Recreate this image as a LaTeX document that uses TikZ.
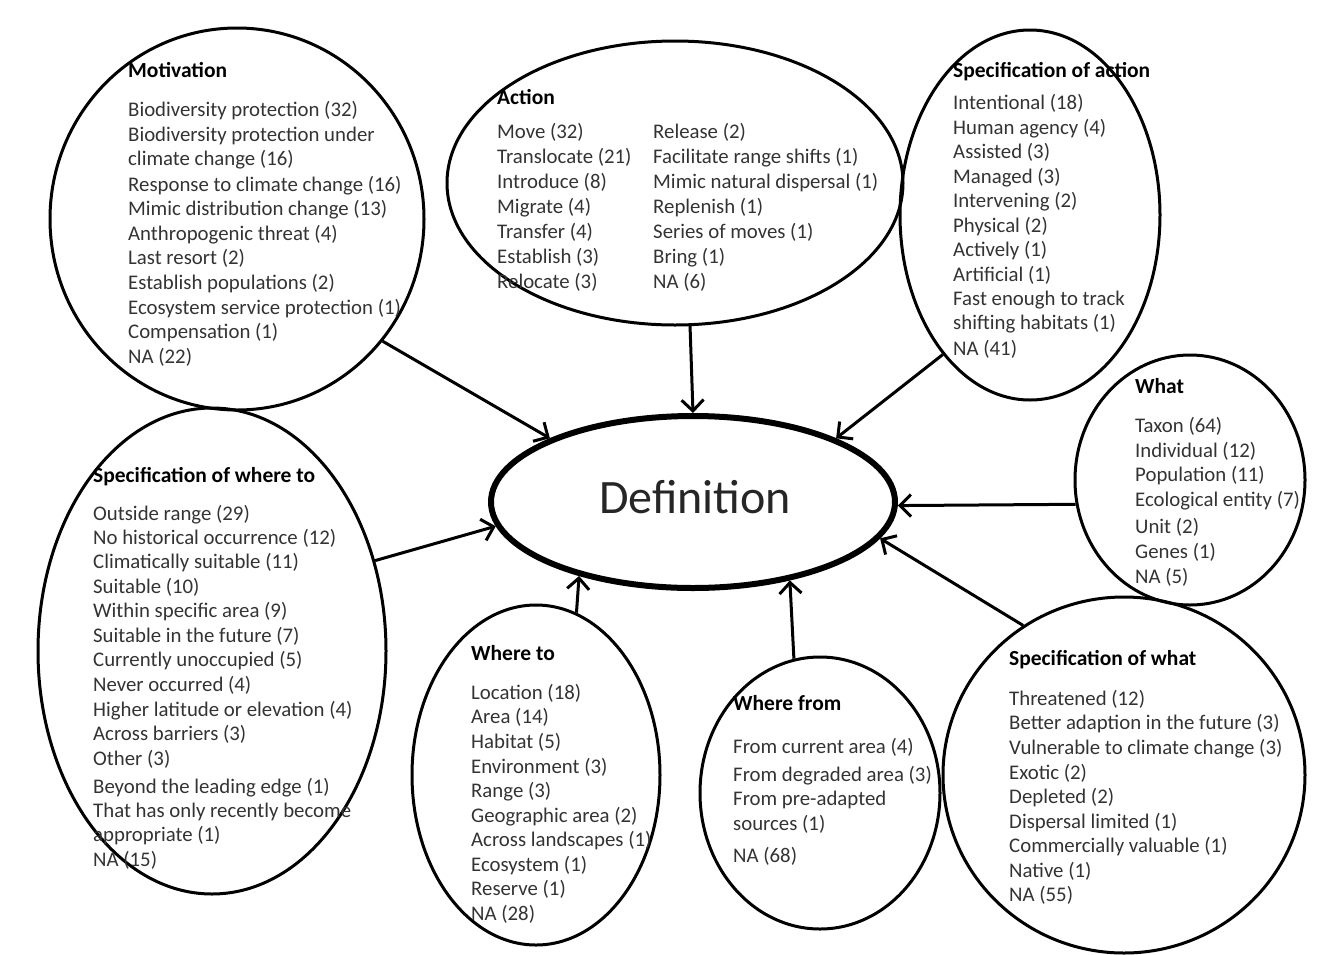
\documentclass[tikz,border=0pt]{standalone}
\usepackage{fontspec}
\setmainfont{Carlito}
\usetikzlibrary{shapes.geometric,arrows.meta}
\tikzset{
  bub/.style={draw=black, line width=3pt, ellipse, inner sep=0pt},
  item/.style={anchor=base west, inner sep=0pt, font=\fontsize{20.8}{24}\selectfont, text=black!80},
  ttl/.style={anchor=base west, inner sep=0pt, font=\fontsize{21.5}{24}\selectfont\bfseries, text=black},
  arr/.style={line width=3pt, -{Straight Barb[length=11pt,width=22pt,line width=3pt]}},
}
\begin{document}
\begin{tikzpicture}[x=1pt,y=-1pt]
\useasboundingbox (0,0) rectangle (1326,954);
% ellipses
\node[bub, minimum width=374, minimum height=382] (mot) at (237,219) {};
\node[bub, minimum width=456, minimum height=284] (act) at (675,183) {};
\node[bub, minimum width=260, minimum height=370] (spa) at (1030,215) {};
\node[bub, minimum width=230, minimum height=250] (what) at (1190,480) {};
\node[bub, minimum width=348, minimum height=486] (swt) at (212,651) {};
\node[bub, minimum width=248, minimum height=340] (wto) at (536,775) {};
\node[bub, minimum width=240, minimum height=272] (wfr) at (820,793) {};
\node[bub, minimum width=362, minimum height=356] (swh) at (1124,775) {};
\node[draw=black, line width=6pt, ellipse, inner sep=0pt, minimum width=404, minimum height=172] (def) at (693,502) {};
\node[inner sep=0pt, font=\fontsize{48}{56}\selectfont, text=black!85] (defT) at (695,497) {Definition};
% texts
\node[ttl] (motT) at (128,77) {Motivation};
\foreach \y/\t [count=\i] in {110/Biodiversity protection (32),135/Biodiversity protection under,159/climate change (16),185/Response to climate change (16),209/Mimic distribution change (13),234/Anthropogenic threat (4),258/Last resort (2),283/Establish populations (2),308/Ecosystem service protection (1),332/Compensation (1),357/NA (22)}
  \node[item] (mot\i) at (128,\y+6) {\t};
\node[ttl] (actT) at (497,104) {Action};
\foreach \y/\t [count=\i] in {132/Move (32),157/Translocate (21),182/Introduce (8),207/Migrate (4),232/Transfer (4),257/Establish (3),282/Relocate (3)}
  \node[item] (actA\i) at (497,\y+6) {\t};
\foreach \y/\t [count=\i] in {132/Release (2),157/Facilitate range shifts (1),182/Mimic natural dispersal (1),207/Replenish (1),232/Series of moves (1),257/Bring (1),282/NA (6)}
  \node[item] (actB\i) at (653,\y+6) {\t};
\node[ttl] (spaT) at (953,77) {Specification of action};
\foreach \y/\t [count=\i] in {103/Intentional (18),128/Human agency (4),152/Assisted (3),177/Managed (3),201/Intervening (2),226/Physical (2),250/Actively (1),275/Artificial (1),299/Fast enough to track,323/shifting habitats (1),349/NA (41)}
  \node[item] (spa\i) at (953,\y+6) {\t};
\node[ttl] (whatT) at (1135,393) {What};
\foreach \y/\t [count=\i] in {426/Taxon (64),451/Individual (12),475/Population (11),500/Ecological entity (7),527/Unit (2),552/Genes (1),577/NA (5)}
  \node[item] (what\i) at (1135,\y+6) {\t};
\node[ttl] (swtT) at (93,482) {Specification of where to};
\foreach \y/\t [count=\i] in {514/Outside range (29),538/No historical occurrence (12),562/Climatically suitable (11),587/Suitable (10),611/Within specific area (9),636/Suitable in the future (7),660/Currently unoccupied (5),685/Never occurred (4),710/Higher latitude or elevation (4),734/Across barriers (3),759/Other (3),787/Beyond the leading edge (1),811/That has only recently become,835/appropriate (1),860/NA (15)}
  \node[item] (swt\i) at (93,\y+6) {\t};
\node[ttl] (wtoT) at (471,660) {Where to};
\foreach \y/\t [count=\i] in {693/Location (18),717/Area (14),742/Habitat (5),767/Environment (3),791/Range (3),816/Geographic area (2),840/Across landscapes (1),865/Ecosystem (1),889/Reserve (1),914/NA (28)}
  \node[item] (wto\i) at (471,\y+6) {\t};
\node[ttl] (wfrT) at (733,710) {Where from};
\foreach \y/\t [count=\i] in {747/From current area (4),775/From degraded area (3),799/From pre-adapted,824/sources (1),856/NA (68)}
  \node[item] (wfr\i) at (733,\y+6) {\t};
\node[ttl] (swhT) at (1009,665) {Specification of what};
\foreach \y/\t [count=\i] in {699/Threatened (12),723/Better adaption in the future (3),748/Vulnerable to climate change (3),773/Exotic (2),797/Depleted (2),822/Dispersal limited (1),846/Commercially valuable (1),871/Native (1),895/NA (55)}
  \node[item] (swh\i) at (1009,\y+6) {\t};
% arrows
\draw[arr] (mot.-40.6) -- (def.156.3);
\draw[arr] (act.-84) -- (def.90);
\draw[arr] (spa.-122.4) -- (def.24.1);
\draw[arr] (what.192.8) -- (def.-1);
\draw[arr] (swh.124.7) -- (def.-11.5);
\draw[arr] (wfr.101) -- (def.-39.7);
\draw[arr] (wto.76.7) -- (def.213.5);
\draw[arr] (swt.29.8) -- (def.187.3);
\end{tikzpicture}
\end{document}
